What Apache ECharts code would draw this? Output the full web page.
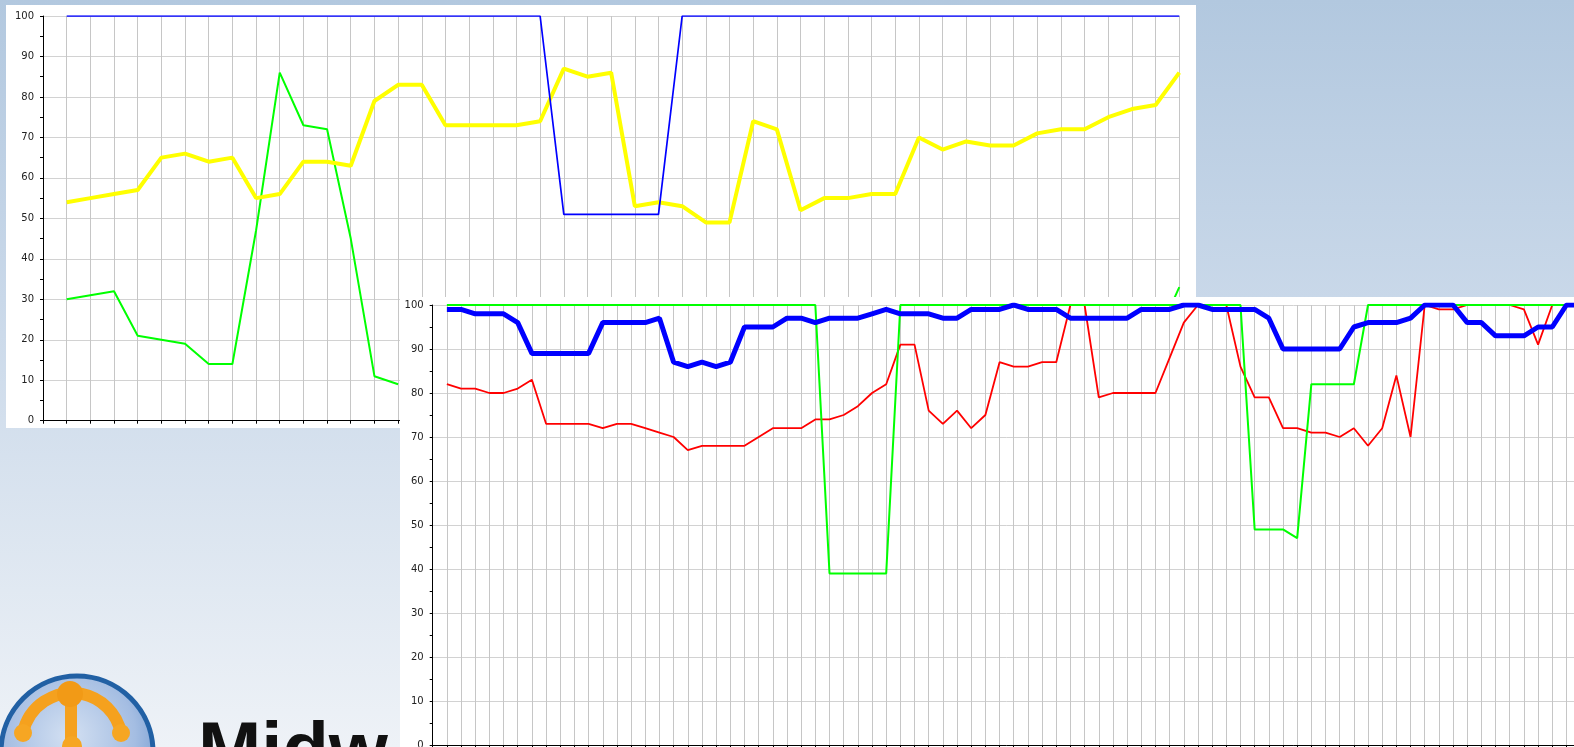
<!DOCTYPE html>
<html>
<head>
<meta charset="utf-8">
<script src="https://cdn.jsdelivr.net/npm/echarts@6/dist/echarts.min.js"></script>
<style>
html,body{margin:0;padding:0;width:1574px;height:747px;overflow:hidden;}
#bg{position:absolute;left:0;top:0;width:1574px;height:747px;}
#c1{position:absolute;left:6px;top:5px;width:1190px;height:423px;background:#fff;}
#c2{position:absolute;left:400px;top:297px;width:1200px;height:460px;background:#fff;}
</style>
</head>
<body>
<div id="bg"></div>
<div id="c1"></div>
<div id="c2"></div>
<script>
// ---------- data: upper (back) chart, 48 points ----------
const categories1 = Array.from({length: 48}, (_, i) => i);
const yellow1 = [54,55,56,57,65,66,64,65,55,56,64,64,63,79,83,83,73,73,73,73,74,87,85,86,53,54,53,49,49,74,72,52,55,55,56,56,70,67,69,68,68,71,72,72,75,77,78,86];
const blue1 = [100,100,100,100,100,100,100,100,100,100,100,100,100,100,100,100,100,100,100,100,100,51,51,51,51,51,100,100,100,100,100,100,100,100,100,100,100,100,100,100,100,100,100,100,100,100,100,100];
// green values for points hidden behind the front chart are unknown (null)
const green1 = [30,31,32,21,20,19,14,14,47,86,73,72,45,11,9,
  null,null,null,null,null,null,null,null,null,null,null,null,null,null,null,null,
  null,null,null,null,null,null,null,null,null,null,null,null,null,null,null,
  20,33];

// ---------- data: lower (front) chart, 81 points ----------
const categories2 = Array.from({length: 81}, (_, i) => i);
const green2 = [100,100,100,100,100,100,100,100,100,100,100,100,100,100,100,100,100,100,100,100,100,100,100,100,100,100,100,
  39,39,39,39,39,
  100,100,100,100,100,100,100,100,100,100,100,100,100,100,100,100,100,100,100,100,100,100,100,100,100,
  49,49,49,47,82,82,82,82,
  100,100,100,100,100,100,100,100,100,100,100,100,100,100,100,100];
const red2 = [82,81,81,80,80,81,83,73,73,73,
  73,72,73,73,72,71,70,67,68,68,
  68,68,70,72,72,72,74,74,75,77,
  80,82,91,91,76,73,76,72,75,87,
  86,86,87,87,100,100,79,80,80,80,
  80,88,96,100,100,100,86,79,79,72,
  72,71,71,70,72,68,72,84,70,100,
  99,99,100,100,100,100,99,91,100,100,
  100];
const blue2 = [99,99,98,98,98,96,89,89,89,89,
  89,96,96,96,96,97,87,86,87,86,
  87,95,95,95,97,97,96,97,97,97,
  98,99,98,98,98,97,97,99,99,99,
  100,99,99,99,97,97,97,97,97,99,
  99,99,100,100,99,99,99,99,97,90,
  90,90,90,90,95,96,96,96,97,100,
  100,100,96,96,93,93,93,95,95,100,
  100];

const yTicks = [0,10,20,30,40,50,60,70,80,90,100];

function pairs(cats, vals) { return cats.map((c, i) => [c, vals[i]]); }

function axes(nCats) {
  return {
    xAxis: {
      type: 'value', min: -1, max: nCats - 1, interval: 1,
      axisLine: {show: true, onZero: false, lineStyle: {color: '#000', width: 1}},
      axisTick: {show: true, length: 3, lineStyle: {color: '#000'}},
      axisLabel: {show: false},
      splitLine: {show: true, lineStyle: {color: '#c6c6c6', width: 1}}
    },
    yAxis: {
      type: 'value', min: yTicks[0], max: yTicks[yTicks.length - 1], interval: 10,
      axisLine: {show: true, onZero: false, lineStyle: {color: '#000', width: 1}},
      axisTick: {show: true, length: 3, lineStyle: {color: '#000'}},
      minorTick: {show: true, splitNumber: 2, length: 3, lineStyle: {color: '#000'}},
      axisLabel: {fontFamily: 'DejaVu Sans', fontSize: 10, color: '#222', margin: 9},
      splitLine: {show: true, lineStyle: {color: '#d2d2d2', width: 1}}
    }
  };
}

function line(data, color, width) {
  return {type: 'line', data: data, showSymbol: false, symbol: 'none', animation: false,
    connectNulls: false, lineStyle: {color: color, width: width}, itemStyle: {color: color}};
}

// ---------- background slide ----------
const bg = echarts.init(document.getElementById('bg'));
bg.setOption({
  animation: false,
  graphic: [
    {type: 'rect', shape: {x: 0, y: 0, width: 1574, height: 747},
      style: {fill: new echarts.graphic.LinearGradient(0, 0, 0, 1, [
        {offset: 0, color: '#b2c8df'}, {offset: 0.4, color: '#c9d8e9'}, {offset: 1, color: '#eef2f7'}])}},
    {type: 'circle', shape: {cx: 77, cy: 752, r: 76},
      style: {fill: new echarts.graphic.RadialGradient(0.45, 0.4, 0.65, [
        {offset: 0, color: '#d3e0f2'}, {offset: 0.65, color: '#a4bde2'}, {offset: 1, color: '#7199cf'}]),
        stroke: '#2160a4', lineWidth: 5}},
    {type: 'arc', shape: {cx: 72, cy: 743, r: 50, startAngle: 3.34, endAngle: 6.08},
      style: {fill: 'none', stroke: '#f5a11e', lineWidth: 12, lineCap: 'round'}},
    {type: 'line', shape: {x1: 71, y1: 694, x2: 71, y2: 750},
      style: {stroke: '#f5a11e', lineWidth: 12}},
    {type: 'circle', shape: {cx: 70, cy: 694, r: 13}, style: {fill: '#f29a16'}},
    {type: 'circle', shape: {cx: 23, cy: 733, r: 9}, style: {fill: '#f6a623'}},
    {type: 'circle', shape: {cx: 121, cy: 733, r: 9}, style: {fill: '#f6a623'}},
    {type: 'circle', shape: {cx: 72, cy: 746, r: 10}, style: {fill: '#f6a623'}},
    {type: 'text', style: {text: 'Midw', x: 198, y: 716, fill: '#111',
      fontFamily: 'Liberation Sans', fontWeight: 'bold', fontSize: 76, verticalAlign: 'top'}}
  ]
});

// ---------- back chart ----------
const c1 = echarts.init(document.getElementById('c1'));
const a1 = axes(categories1.length);
c1.setOption({
  animation: false,
  grid: {left: 37, top: 11, width: 1136.3, height: 404.7, containLabel: false, outerBoundsMode: 'none'},
  xAxis: a1.xAxis, yAxis: a1.yAxis,
  series: [
    line(pairs(categories1, green1), '#00ff00', 2),
    line(pairs(categories1, yellow1), '#ffff00', 4),
    line(pairs(categories1, blue1), '#0000ff', 1.7)
  ]
});

// ---------- front chart ----------
const c2 = echarts.init(document.getElementById('c2'));
const a2 = axes(categories2.length);
c2.setOption({
  animation: false,
  grid: {left: 32.7, top: 8, width: 1147.9, height: 440, containLabel: false, outerBoundsMode: 'none'},
  xAxis: a2.xAxis, yAxis: a2.yAxis,
  series: [
    line(pairs(categories2, red2), '#ff0000', 1.8),
    line(pairs(categories2, green2), '#00ff00', 2),
    line(pairs(categories2, blue2), '#0000ff', 5)
  ]
});
</script>
</body>
</html>
